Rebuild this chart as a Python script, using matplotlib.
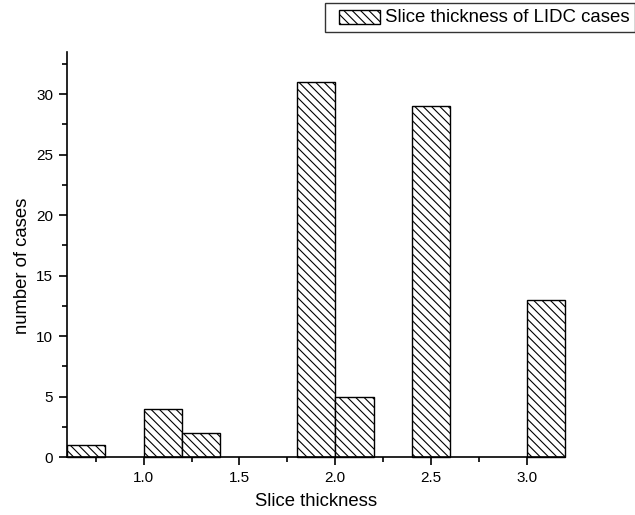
import matplotlib
matplotlib.use("Agg")
import matplotlib.pyplot as plt
from matplotlib.ticker import MultipleLocator, FormatStrFormatter
from matplotlib.legend_handler import HandlerPatch
from matplotlib.patches import Rectangle
from matplotlib.container import BarContainer

plt.rcParams['font.family'] = ['Liberation Sans', 'DejaVu Sans']
plt.rcParams['hatch.linewidth'] = 0.8

# Data: bin left edges, bin width, counts
bin_left = [0.6, 1.0, 1.2, 1.8, 2.0, 2.4, 3.0]
bin_width = 0.2
counts = [1, 4, 2, 31, 5, 29, 13]
series_label = "Slice thickness of LIDC cases"
x_label = "Slice thickness"
y_label = "number of cases"

fig = plt.figure(figsize=(6.35, 5.15), dpi=100)
ax = fig.add_axes([0.1055, 0.1126, 0.7845, 0.787])

bars = ax.bar(bin_left, counts, width=bin_width, align='edge',
              facecolor='white', edgecolor='black', linewidth=1.0,
              hatch='\\\\\\\\', label=series_label, clip_on=False)

ax.set_xlim(0.6, 3.2)
ax.set_ylim(0, 33.5)
ax.xaxis.set_major_locator(MultipleLocator(0.5))
ax.xaxis.set_minor_locator(MultipleLocator(0.25))
ax.yaxis.set_major_locator(MultipleLocator(5))
ax.yaxis.set_minor_locator(MultipleLocator(2.5))
ax.xaxis.set_major_formatter(FormatStrFormatter('%.1f'))

for s in ['top', 'right']:
    ax.spines[s].set_visible(False)
for s in ['left', 'bottom']:
    ax.spines[s].set_linewidth(1.2)

ax.tick_params(axis='both', which='major', direction='out', length=6, width=1.2,
               labelsize=11, pad=4)
ax.tick_params(axis='both', which='minor', direction='out', length=3.5, width=1.2)

ax.set_xlabel(x_label, fontsize=13.3, labelpad=6)
ax.set_ylabel(y_label, fontsize=13.3, labelpad=6)
ax.yaxis.set_label_coords(-0.073, 0.472)


def make_handle(legend, orig_handle, xdescent, ydescent, width, height, fontsize):
    w = 29.5
    h = 10.1
    return Rectangle((-xdescent + width - w, -ydescent + (height - h) / 2 - 1.0), w, h)


def update_first(tgt, src):
    tgt.update_from(src[0])


leg = fig.legend(loc='upper right', bbox_to_anchor=(1.0, 0.994), fontsize=13.4,
                 frameon=True, fancybox=False, edgecolor='black',
                 handlelength=2.65, handleheight=0.75, borderpad=0.3,
                 handletextpad=0.27, borderaxespad=0,
                 handler_map={BarContainer: HandlerPatch(patch_func=make_handle,
                                                         update_func=update_first)})
leg.get_frame().set_linewidth(1.0)

fig.savefig("out.png", dpi=100, facecolor='white')
